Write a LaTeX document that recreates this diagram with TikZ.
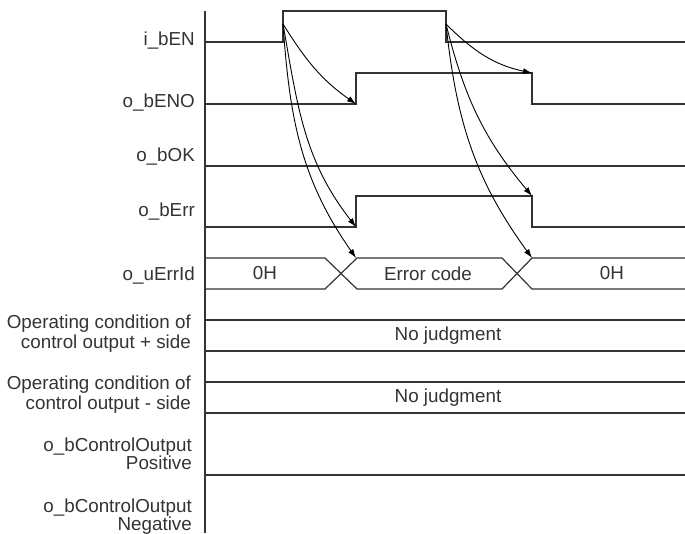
\documentclass[tikz,border=0pt]{standalone}
\usepackage{fontspec}
\setmainfont{Liberation Sans}
\usepackage{tikz}
\usetikzlibrary{arrows.meta}
\usepackage{xcolor}
\definecolor{sggray}{HTML}{333333}
\tikzset{
  signal/.style={line width=1.2pt, draw=sggray},
  axisline/.style={line width=1.8pt, draw=sggray},
  cause/.style={-{Latex[length=9pt,width=6pt]}, line width=0.9pt, draw=black},
  sigtext/.style={font=\fontsize{18.8}{20}\selectfont, text=sggray, inner sep=0pt},
  rowlabel/.style={sigtext, anchor=base east, align=right},
}

\begin{document}
\begin{tikzpicture}[x=1pt, y=-1pt]  % 1 px = 1 pt, y nach unten
  \useasboundingbox (0,0) rectangle (685,533);
  % Zeitachse
  \draw[axisline] (205,11) -- (205,533);
  % i_bEN
  \draw[signal] (205,42) -- (283,42) -- (283,11) -- (446,11) -- (446,42) -- (685,42);
  % o_bENO und o_bErr: gleicher Verlauf
  \foreach \y/\h in {104/73, 227/196}
    \draw[signal] (205,\y) -- (356,\y) -- (356,\h) -- (532,\h) -- (532,\y) -- (685,\y);
  % o_bOK
  \draw[signal] (205,166) -- (685,166);
  % o_uErrId Bus mit zwei Wechseln
  \draw[signal] (205,258) -- (325,258) -- (357,289) -- (502,289) -- (532,258) -- (685,258);
  \draw[signal] (205,289) -- (325,289) -- (357,258) -- (502,258) -- (532,289) -- (685,289);
  \node[sigtext] (idZero) at (265,273.5) {0H};
  \node[sigtext] (idError) at (428,273.5) {Error code};
  \node[sigtext] (idZeroEnd) at (612,273.5) {0H};
  % Betriebsbedingungen und Ausgang positiv
  \foreach \y in {320,351,382,413,475} \draw[signal] (205,\y) -- (685,\y);
  \node[sigtext] (judgePlus) at (448,336) {No judgment};
  \node[sigtext] (judgeMinus) at (448,398) {No judgment};
  % Signalnamen (Basis = letzte Zeile)
  \node[rowlabel] (lblEn) at (195,45) {i\_bEN};
  \node[rowlabel] (lblEno) at (195,107) {o\_bENO};
  \node[rowlabel] (lblOk) at (195,161) {o\_bOK};
  \node[rowlabel] (lblErr) at (195,216) {o\_bErr};
  \node[rowlabel] (lblErrId) at (195,280) {o\_uErrId};
  \node[rowlabel] (lblPlus) at (191,348) {Operating condition of\\control output + side};
  \node[rowlabel] (lblMinus) at (191,409) {Operating condition of\\control output - side};
  \node[rowlabel] (lblPos) at (192,469) {o\_bControlOutput\\[-2pt]Positive};
  \node[rowlabel] (lblNeg) at (192,530) {o\_bControlOutput\\[-2pt]Negative};
  % Ursache-Wirkung
  \coordinate (enRise) at (283,24);
  \coordinate (enFall) at (446,24);
  \coordinate (enoRise) at (356,104);
  \coordinate (errRise) at (356,227);
  \coordinate (idRise) at (356,258);
  \coordinate (enoFall) at (532,73);
  \coordinate (errFall) at (532,196);
  \coordinate (idFall) at (532,258);
  \draw[cause] (enRise) to[out=-58, in=145] (enoRise);
  \draw[cause] (enRise) to[out=-80, in=128] (errRise);
  \draw[cause] (enRise) to[out=-86, in=125] (idRise);
  \draw[cause] (enFall) to[out=-45, in=168] (enoFall);
  \draw[cause] (enFall) to[out=-76, in=130] (errFall);
  \draw[cause] (enFall) to[out=-84, in=126] (idFall);
\end{tikzpicture}
\end{document}
